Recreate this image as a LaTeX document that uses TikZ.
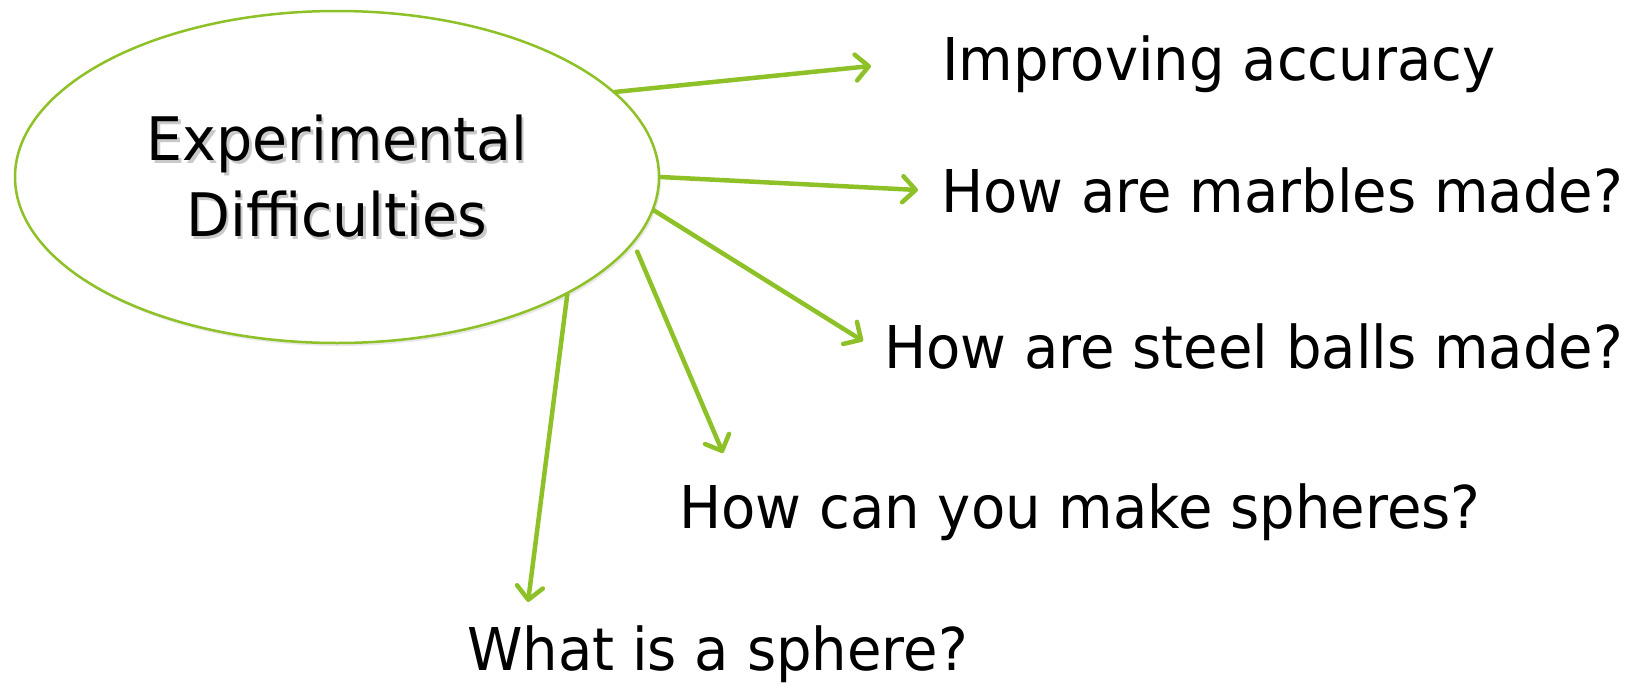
\documentclass[tikz,border=0pt]{standalone}
\usepackage{fontspec}
\setmainfont[FakeStretch=0.95]{DejaVu Sans}
\usetikzlibrary{arrows.meta, shapes.geometric, shadows}

\definecolor{leaf}{RGB}{141,193,39}

\tikzset{
  branch/.style={draw=leaf, line width=4.5pt, line cap=round,
    -{Straight Barb[length=13pt, width=26pt, round]}},
  topic/.style={inner sep=0pt, anchor=base west,
    font=\fontsize{59}{70}\selectfont},
  headline/.style={align=center, font=\fontsize{60}{76}\selectfont},
}

\begin{document}
\begin{tikzpicture}[x=1pt, y=-1pt]
  \useasboundingbox (0,0) rectangle (1639,688);

  % central bubble
  \node[
      draw=leaf,
      line width=2.5pt,
      ellipse,
      fill=white,
      minimum width=644pt,
      minimum height=332pt,
      inner sep=0pt,
      drop shadow={shadow xshift=2pt, shadow yshift=-3pt, opacity=0.18}
  ] (core) at (337,177) {};

  % title with a light shadow under it
  \node[headline, text=black!35, opacity=0.6] (shade) at (339.5,179.5) {Experimental\\Difficulties};
  \node[headline] (title) at (337,176) {Experimental\\Difficulties};

  % questions
  \node[topic] (accuracy) at (942,80) {Improving accuracy};
  \node[topic] (marbles) at (941,212) {How are marbles made?};
  \node[topic] (steel) at (884,368) {How are steel balls made?};
  \node[topic] (make) at (679,528) {How can you make spheres?};
  \node[topic] (what) at (467,670) {What is a sphere?};

  % arrow tips
  \coordinate (toaccuracy) at (871,66);
  \coordinate (tomarbles) at (918,190);
  \coordinate (tosteel) at (863,341);
  \coordinate (tomake) at (723,453);
  \coordinate (towhat) at (528,602);

  \draw[branch] (core.17) -- (toaccuracy);
  \draw[branch] (core.0) -- (tomarbles);
  \draw[branch] (core.-6) -- (tosteel);
  \draw[branch] ([shift={(9,2)}]core.-14) -- (tomake);
  \draw[branch] (core.-27) -- (towhat);

\end{tikzpicture}
\end{document}
